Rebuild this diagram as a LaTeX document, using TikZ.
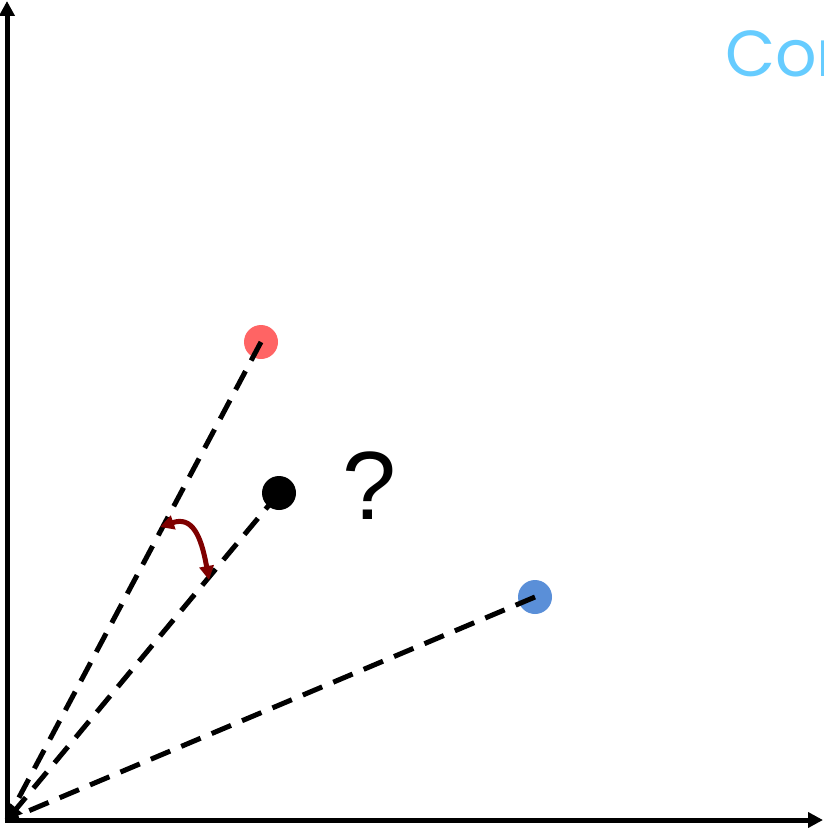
\documentclass[tikz,border=0pt]{standalone}
\usepackage{fontspec}
\setmainfont{Liberation Sans}
\newfontfamily\titlefont{Poppins}
\usetikzlibrary{arrows.meta}
\definecolor{redpt}{HTML}{FF6464}
\definecolor{bluept}{HTML}{5A8FD8}
\definecolor{arcred}{HTML}{7F0000}
\definecolor{titleblue}{HTML}{66CCFF}
\tikzset{
  axis/.style={line width=5pt, -{Triangle[length=15pt,width=15pt]}},
  ray/.style={line width=5pt, dash pattern=on 21pt off 12pt},
  pt/.style={circle, minimum size=34pt, inner sep=0pt},
  anglearrow/.style={line width=5pt, arcred, {Triangle[length=14pt,width=14pt]}-{Triangle[length=14pt,width=14pt]}}
}
\begin{document}
\begin{tikzpicture}[x=1pt,y=-1pt]
\useasboundingbox (0,0) rectangle (823,829);
\coordinate (o) at (7,820);
\coordinate (ytip) at (7,1);
\coordinate (xtip) at (823,820);
\draw[axis] (7,822) -- (ytip);
\draw[axis] (5,820) -- (xtip);
\node[pt, fill=redpt] (r) at (261,342) {};
\node[pt, fill=black] (k) at (279,493) {};
\node[pt, fill=bluept] (b) at (535,597) {};
\draw[ray] (r.center) -- (o);
\draw[ray, -{Triangle[length=15pt,width=15pt]}] (k.center) -- (o);
\draw[ray] (b.center) -- (o);
\coordinate (a1) at (160,527);
\coordinate (a2) at (209,580);
\draw[anglearrow] (a1) .. controls (192,516) and (201,535) .. (a2);
\node[font=\fontsize{97}{100}\selectfont] (q) at (369,486) {?};
\node[font=\titlefont\fontsize{65}{70}\selectfont, text=titleblue, anchor=base west, inner sep=0pt] (t) at (725,77) {Con};
\end{tikzpicture}
\end{document}
